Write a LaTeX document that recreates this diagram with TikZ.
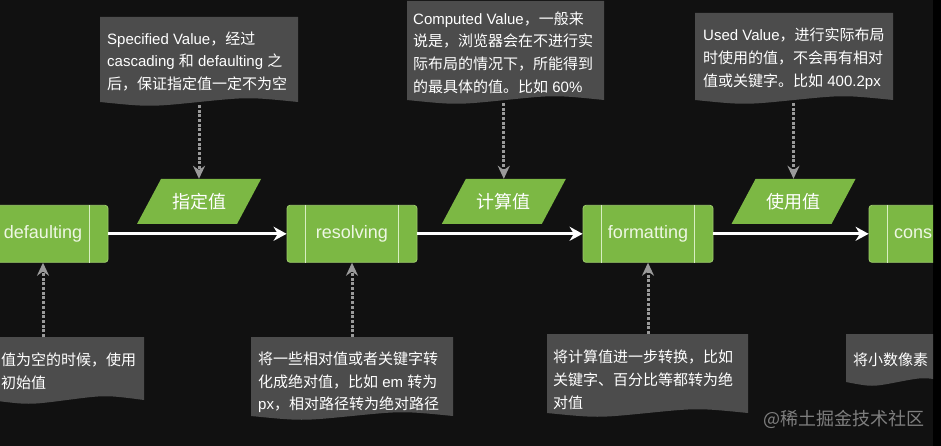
\documentclass[tikz,border=0pt]{standalone}
\usepackage{fontspec}
\setmainfont{Liberation Sans}
\newfontfamily\cjk{Noto Sans CJK SC}
\usetikzlibrary{arrows.meta,calc}
\definecolor{bgc}{HTML}{111111}
\definecolor{boxgreen}{HTML}{7CB844}
\definecolor{boxedge}{HTML}{9CCB6A}
\definecolor{boxline}{HTML}{D8EEC2}
\definecolor{boxtext}{HTML}{EEF7E4}
\definecolor{notefill}{HTML}{4C4C4C}
\definecolor{hintgray}{HTML}{9A9A9A}
\definecolor{wmark}{HTML}{7F7F7F}
\newcommand\mynote[4]{\fill[notefill] (#1,#2) -- (#3,#2) -- (#3,#4) .. controls ({#1+0.75*(#3-#1)},{#4-5}) .. ({0.5*(#1+#3)},#4) .. controls ({#1+0.25*(#3-#1)},{#4+5}) .. (#1,#4) -- cycle;}
\newcommand\mypara[1]{\fill[boxgreen] ($(#1)+(-62,22.5)$) -- ($(#1)+(38,22.5)$) -- ($(#1)+(62,-22.5)$) -- ($(#1)+(-38,-22.5)$) -- cycle;}
\begin{document}
\begin{tikzpicture}[x=1pt,y=-1pt,
  proc/.style={rectangle, rounded corners=3pt, fill=boxgreen, draw=boxedge, line width=0.8pt,
    minimum width=130pt, minimum height=57pt, inner sep=0pt, text=boxtext, font=\fontsize{18}{20}\selectfont},
  procline/.style={draw=boxline, line width=0.9pt},
  para/.style={rectangle, minimum width=100pt, minimum height=45pt, inner sep=0pt, text=white,
    font=\cjk\fontsize{18}{20}\selectfont},
  notetext/.style={anchor=north west, inner sep=0pt, align=left, text=white, font=\fontsize{15}{22.8}\selectfont},
  flow/.style={draw=white, line width=2.8pt, -{Stealth[length=13pt,width=14pt]}},
  hint/.style={draw=hintgray, line width=3pt, dash pattern=on 3pt off 1.7pt, -{Stealth[length=13pt,width=12pt]}},
  wm/.style={text=wmark, inner sep=0pt, font=\cjk\fontsize{18}{20}\selectfont}]
\useasboundingbox (0,0) rectangle (941,446);
\fill[bgc] (0,0) rectangle (933,446);
\fill[black] (933,0) rectangle (941,446);
\begin{scope}
\clip (0,0) rectangle (933,446);
% notes (backgrounds)
\mynote{100}{17}{298}{102}
\mynote{407}{1}{604}{100}
\mynote{695}{13}{893}{100}
\mynote{-10}{337}{144}{400}
\mynote{251}{337}{453}{416}
\mynote{547}{334}{748}{413}
\mynote{846}{334}{950}{382}
% note texts
\node[notetext] (t1) at (107,31.3) {Specified Value{\cjk ，经过}\\cascading {\cjk 和} defaulting {\cjk 之}\\{\cjk 后，保证指定值一定不为空}};
\node[notetext] (t2) at (413,11.3) {Computed Value{\cjk ，一般来}\\{\cjk 说是，浏览器会在不进行实}\\{\cjk 际布局的情况下，所能得到}\\{\cjk 的最具体的值。比如} 60\%};
\node[notetext] (t3) at (703,28) {Used Value{\cjk ，进行实际布局}\\{\cjk 时使用的值，不会再有相对}\\{\cjk 值或关键字。比如} 400.2px};
\node[notetext] (t4) at (1,353) {{\cjk 值为空的时候，使用}\\{\cjk 初始值}};
\node[notetext] (t5) at (258,351.3) {{\cjk 将一些相对值或者关键字转}\\{\cjk 化成绝对值，比如} em {\cjk 转为}\\px{\cjk ，相对路径转为绝对路径}};
\node[notetext] (t6) at (553,349.7) {{\cjk 将计算值进一步转换，比如}\\{\cjk 关键字、百分比等都转为绝}\\{\cjk 对值}};
\node[notetext] (t7) at (853,353) {{\cjk 将小数像素}};
% process boxes
\node[proc] (def) at (43,233.8) {defaulting};
\node[proc] (res) at (352,233.8) {resolving};
\node[proc] (fmt) at (648,233.8) {formatting};
\node[proc] (con) at (934,233.8) {};
\node[anchor=west, inner sep=0pt, text=boxtext, font=\fontsize{18}{20}\selectfont] (cont) at (894,233.8) {cons};
\foreach \b in {def,res,fmt,con}{
  \draw[procline] ($(\b.north west)+(19,0)$) -- ($(\b.south west)+(19,0)$);
  \draw[procline] ($(\b.north east)+(-19,0)$) -- ($(\b.south east)+(-19,0)$);
}
% parallelograms
\coordinate (p1c) at (199,201.5);
\coordinate (p2c) at (503.8,201.5);
\coordinate (p3c) at (793.5,201.5);
\mypara{p1c}\mypara{p2c}\mypara{p3c}
\node[para] (p1) at (p1c) {指定值};
\node[para] (p2) at (p2c) {计算值};
\node[para] (p3) at (p3c) {使用值};
% flow arrows
\draw[flow] (def.east) -- (res.west);
\draw[flow] (res.east) -- (fmt.west);
\draw[flow] (fmt.east) -- (con.west);
% hint arrows
\coordinate (n1b) at (199,105);
\coordinate (n2b) at (503.8,103);
\coordinate (n3b) at (793.5,103);
\coordinate (n4t) at (43,337);
\coordinate (n5t) at (352,337);
\coordinate (n6t) at (648,334);
\draw[hint] (n1b) -- (p1.north);
\draw[hint] (n2b) -- (p2.north);
\draw[hint] (n3b) -- (p3.north);
\draw[hint] (n4t) -- (def.south);
\draw[hint] (n5t) -- (res.south);
\draw[hint] (n6t) -- (fmt.south);
% watermark
\node[wm, anchor=west] (wmk) at (763,419) {@稀土掘金技术社区};
\end{scope}
\end{tikzpicture}
\end{document}
